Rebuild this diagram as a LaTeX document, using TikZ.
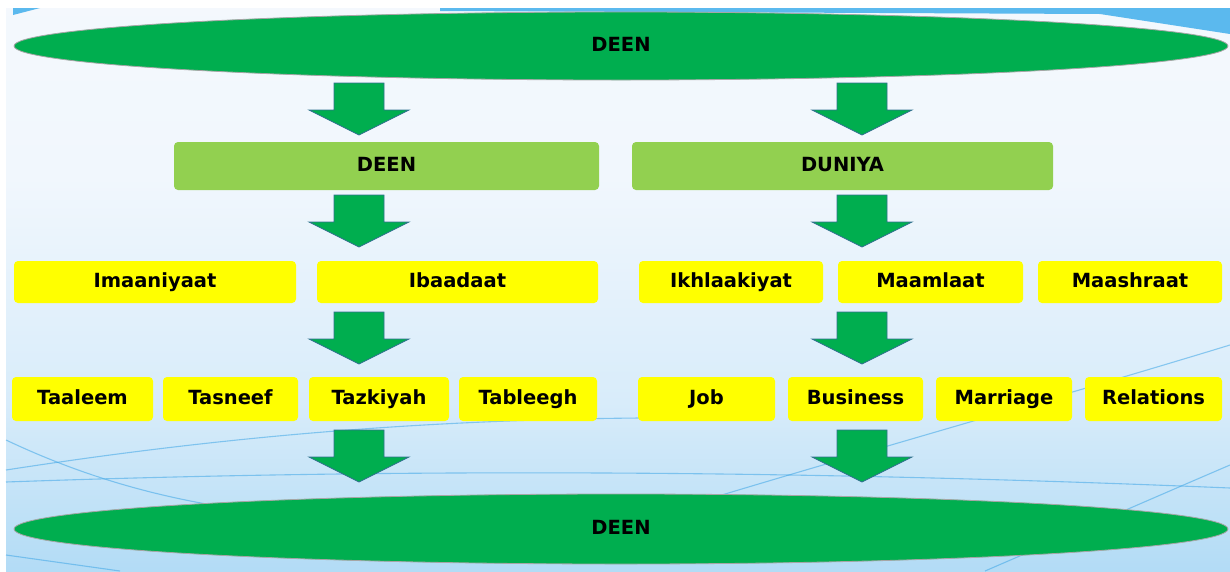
\documentclass[tikz,border=0pt]{standalone}
\usepackage{fontspec}
\setmainfont{DejaVu Sans}
\usetikzlibrary{shapes.geometric}
\definecolor{deengreen}{HTML}{00AE4F}
\definecolor{limegreen}{HTML}{92D050}
\definecolor{boxyellow}{HTML}{FFFF00}
\definecolor{arrowedge}{HTML}{31708F}
\definecolor{skyline}{HTML}{3FA6E6}
\definecolor{bandblue}{HTML}{5BB9EE}
\definecolor{bgtop}{HTML}{F8FBFE}
\definecolor{bgmid}{HTML}{F1F7FD}
\definecolor{bgpale}{HTML}{D8ECFA}
\definecolor{bglow}{HTML}{A6D6F4}
\definecolor{bgbase}{HTML}{7CC2EE}
\pgfdeclareverticalshading{bgshade}{100bp}{color(0bp)=(bgbase); color(20bp)=(bglow); color(40bp)=(bgpale); color(60bp)=(bgmid); color(100bp)=(bgtop)}
\begin{document}
\begin{tikzpicture}[x=1pt, y=-1pt,
		oval/.style={ellipse, fill=deengreen, draw=gray!70, line width=0.8pt, minimum width=1214pt, inner sep=0pt},
		head/.style={fill=limegreen, rounded corners=4pt, minimum height=48pt, inner sep=0pt},
		item/.style={fill=boxyellow, rounded corners=4pt, inner sep=0pt},
		every node/.style={font=\fontsize{19.5}{23}\selectfont\bfseries, text height=14pt, text depth=4pt},
		downarrow/.pic={\draw[fill=deengreen, draw=arrowedge, line width=0.8pt] (-25,0) -- (25,0) -- (25,27) -- (50,27) -- (0,52) -- (-50,27) -- (-25,27) -- cycle;}]
		\useasboundingbox (0,0) rectangle (1230,571);
		\fill[white] (0,0) rectangle (1230,571);
		\shade[shading=bgshade] (6,8) rectangle (1230,571);
		\fill[bandblue] (440,8) -- (1230,8) -- (1230,34) -- (1100,14) -- (440,11) -- cycle;
		\fill[bandblue] (13,8) -- (40,8) -- (13,15) -- cycle;
		\begin{scope}[skyline, line width=1.1pt, opacity=0.55]
			\draw (6,440) .. controls (80,475) and (160,500) .. (260,512);
			\draw (6,470) .. controls (200,440) and (400,420) .. (640,418);
			\draw (6,482) .. controls (400,468) and (800,470) .. (1230,488);
			\draw (6,555) -- (120,571);
			\draw (640,520) .. controls (800,470) and (1050,400) .. (1230,345);
			\draw (985,571) .. controls (1080,530) and (1160,495) .. (1230,465);
		\end{scope}
		\node[oval, minimum height=68pt] (top) at (621,46) {DEEN};
		\node[head, minimum width=425pt] (deen) at (386.5,166) {DEEN};
		\node[head, minimum width=421pt] (duniya) at (842.5,166) {DUNIYA};
		\node[item, minimum width=282pt, minimum height=42pt] (imaan) at (155,282) {Imaaniyaat};
		\node[item, minimum width=281pt, minimum height=42pt] (ibaad) at (457.5,282) {Ibaadaat};
		\node[item, minimum width=184pt, minimum height=42pt] (ikhlaq) at (731,282) {Ikhlaakiyat};
		\node[item, minimum width=185pt, minimum height=42pt] (maamla) at (930.5,282) {Maamlaat};
		\node[item, minimum width=184pt, minimum height=42pt] (maashra) at (1130,282) {Maashraat};
		\node[item, minimum width=141pt, minimum height=44pt] (taaleem) at (82.5,399) {Taaleem};
		\node[item, minimum width=135pt, minimum height=44pt] (tasneef) at (230.5,399) {Tasneef};
		\node[item, minimum width=140pt, minimum height=44pt] (tazkiyah) at (379,399) {Tazkiyah};
		\node[item, minimum width=138pt, minimum height=44pt] (tableegh) at (528,399) {Tableegh};
		\node[item, minimum width=137pt, minimum height=44pt] (job) at (706.5,399) {Job};
		\node[item, minimum width=135pt, minimum height=44pt] (business) at (855.5,399) {Business};
		\node[item, minimum width=136pt, minimum height=44pt] (marriage) at (1004,399) {Marriage};
		\node[item, minimum width=137pt, minimum height=44pt] (relations) at (1153.5,399) {Relations};
		\node[oval, minimum height=70pt] (bottom) at (621,529) {DEEN};
		\foreach \x in {359, 862}
			\foreach \y in {83, 195, 312, 430}
				\pic at (\x,\y) {downarrow};
	\end{tikzpicture}
\end{document}
